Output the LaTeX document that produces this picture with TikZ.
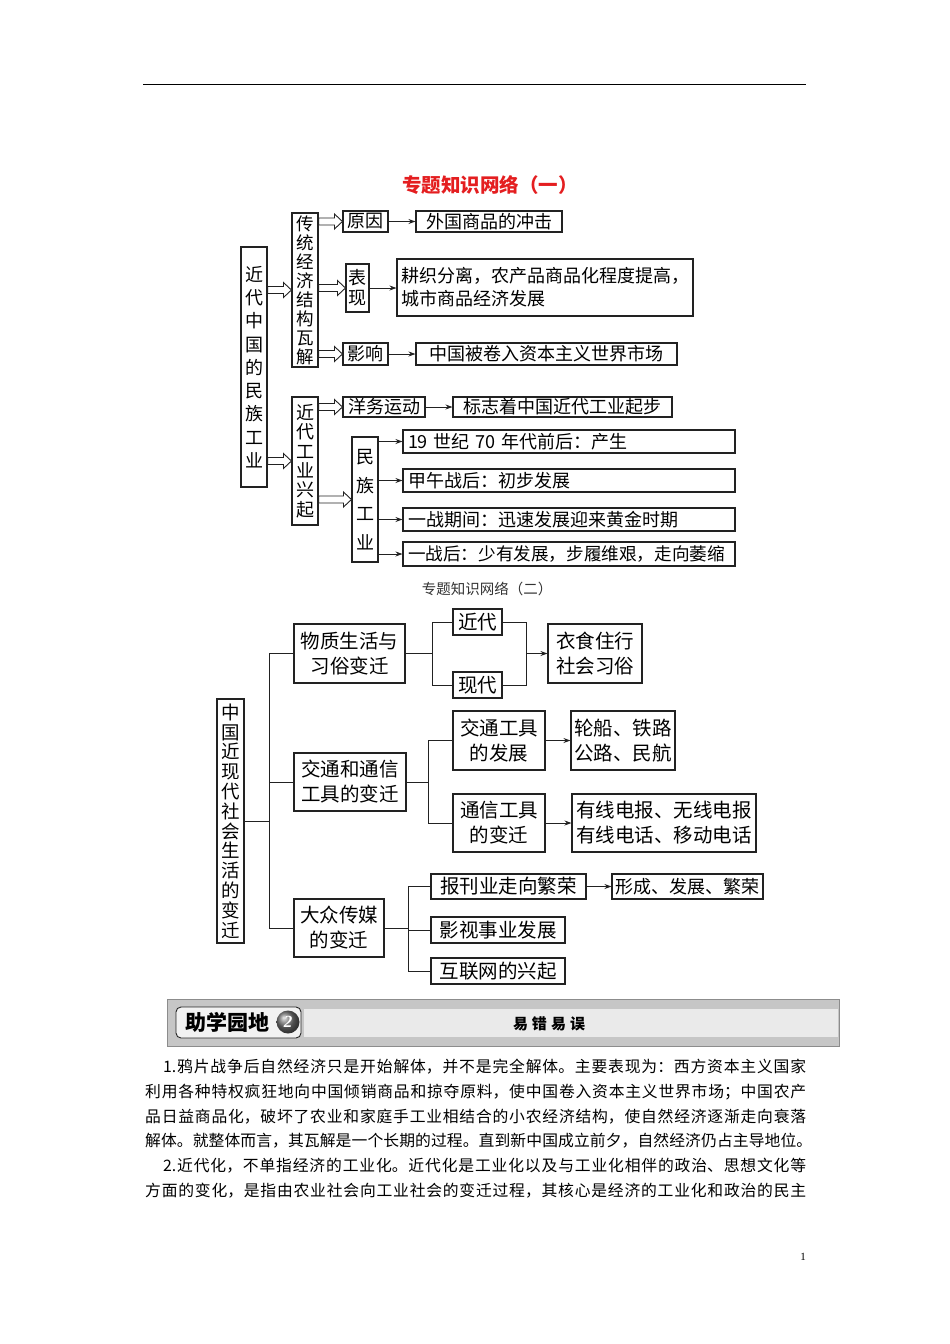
\documentclass[tikz,border=0pt]{standalone}
\usepackage{fontspec}
\setmainfont{Noto Sans CJK SC}
\newfontfamily\latinfont{Liberation Serif}
\usetikzlibrary{arrows.meta,calc}
\XeTeXlinebreaklocale "zh"
\XeTeXlinebreakskip=0pt plus 3pt
\definecolor{ttlred}{HTML}{E41E20}
\definecolor{bord}{HTML}{222222}
\definecolor{bandgray}{HTML}{C6C6C6}
\definecolor{striplight}{HTML}{EAEAEA}
\tikzset{
  bx/.style={draw=bord, line width=1.1pt, inner sep=0pt, align=center},
  lbx/.style={bx, align=left, inner xsep=5pt, text width=322pt, minimum height=23pt},
  ln/.style={draw=bord, line width=0.9pt},
  arr/.style={ln, -{Stealth[length=7pt,width=5pt]}},
  harr/.style={draw=bord, line width=0.9pt, fill=white, line join=miter},
  fone/.style={font=\fontsize{18}{22}\selectfont},
  ftwo/.style={font=\fontsize{19.5}{25}\selectfont},
  para/.style={anchor=west, inner sep=0pt, font=\fontsize{15.8}{20}\selectfont}
}
\newcommand\hollowarr[2]{%
  \draw[harr] let \p1=(#1), \p2=(#2) in
   (\x1,\y1+3.5pt) -- (\x2-8pt,\y1+3.5pt) -- (\x2-8pt,\y1+7.5pt) -- (\x2,\y1)
   -- (\x2-8pt,\y1-7.5pt) -- (\x2-8pt,\y1-3.5pt) -- (\x1,\y1-3.5pt) -- cycle;}
\newcommand\jline[2]{\parbox{#1}{\rightskip=0pt\parfillskip=0pt\relax #2}}
\begin{document}
\begin{tikzpicture}[x=1pt,y=-1pt]
\useasboundingbox[fill=white] (0,0) rectangle (950,1344);
% top rule
\draw[line width=0.8pt] (143,84) -- (806,84);
% ---------- diagram 1 ----------
\node[font=\fontsize{19.5}{22}\bfseries, text=ttlred] (t1) at (490,185) {专题知识网络（一）};
\node[bx, minimum width=26pt, minimum height=240pt, font=\fontsize{18}{23.25}\selectfont] (A) at (254,367) {近\\代\\中\\国\\的\\民\\族\\工\\业};
\node[bx, minimum width=26pt, minimum height=154pt, font=\fontsize{17.5}{19}\selectfont] (B) at (305,290) {传\\统\\经\\济\\结\\构\\瓦\\解};
\node[bx, minimum width=26pt, minimum height=128pt, font=\fontsize{18}{19.4}\selectfont] (C) at (305,461) {近\\代\\工\\业\\兴\\起};
\node[bx, fone, minimum width=45pt, minimum height=21pt] (D) at (365.5,221.5) {原因};
\node[bx, fone, minimum width=146pt, minimum height=21pt] (E) at (489,221.5) {外国商品的冲击};
\node[bx, minimum width=23pt, minimum height=48pt, font=\fontsize{18}{20}\selectfont] (F) at (357.5,288) {表\\现};
\node[bx, align=left, minimum width=296pt, minimum height=57pt, font=\fontsize{18}{23}\selectfont] (G) at (545,287.5) {耕织分离，农产品商品化程度提高，\\城市商品经济发展};
\node[bx, fone, minimum width=45pt, minimum height=22pt] (H) at (365.5,354) {影响};
\node[bx, fone, minimum width=261pt, minimum height=22pt] (I) at (546.5,354) {中国被卷入资本主义世界市场};
\node[bx, fone, minimum width=82pt, minimum height=20pt] (J) at (384,407) {洋务运动};
\node[bx, fone, minimum width=219pt, minimum height=20pt] (K) at (562.5,407) {标志着中国近代工业起步};
\node[bx, minimum width=26pt, minimum height=125pt, font=\fontsize{18}{28.5}\selectfont] (L) at (365,499.5) {民\\族\\工\\业};
\node[lbx, fone] (M1) at (569,441.5) {19 世纪 70 年代前后：产生};
\node[lbx, fone] (M2) at (569,480.5) {甲午战后：初步发展};
\node[lbx, fone] (M3) at (569,519.5) {一战期间：迅速发展迎来黄金时期};
\node[lbx, font=\fontsize{17.6}{22}\selectfont, minimum height=24pt] (M4) at (569,554) {一战后：少有发展，步履维艰，走向萎缩};
% hollow arrows
\hollowarr{A.east |- B.west}{B.west}
\hollowarr{A.east |- C.west}{C.west}
\hollowarr{B.east |- D.west}{D.west}
\hollowarr{B.east |- F.west}{F.west}
\hollowarr{B.east |- H.west}{H.west}
\hollowarr{C.east |- J.west}{J.west}
\hollowarr{C.east |- L.west}{L.west}
% plain arrows
\draw[arr] (D.east) -- (E.west);
\draw[arr] (F.east) -- (F.east -| G.west);
\draw[arr] (H.east) -- (I.west);
\draw[arr] (J.east) -- (K.west);
\draw[arr] (L.east |- M1.west) -- (M1.west);
\draw[arr] (L.east |- M2.west) -- (M2.west);
\draw[arr] (L.east |- M3.west) -- (M3.west);
\draw[arr] (L.east |- M4.west) -- (M4.west);
% ---------- diagram 2 ----------
\node[font=\fontsize{14.5}{16}\selectfont, text=black!80] (t2) at (487,589) {专题知识网络（二）};
\node[bx, minimum width=27pt, minimum height=244pt, font=\fontsize{18.5}{19.8}\selectfont] (P) at (230.5,821) {中\\国\\近\\现\\代\\社\\会\\生\\活\\的\\变\\迁};
\node[bx, ftwo, minimum width=111pt, minimum height=59pt] (Q) at (349.5,653.5) {物质生活与\\习俗变迁};
\node[bx, ftwo, minimum width=49pt, minimum height=26pt] (R) at (477.5,622) {近代};
\node[bx, ftwo, minimum width=49pt, minimum height=26pt] (S) at (477.5,685) {现代};
\node[bx, ftwo, minimum width=94pt, minimum height=59pt] (T) at (595,653.5) {衣食住行\\社会习俗};
\node[bx, ftwo, minimum width=112pt, minimum height=58pt] (U) at (350,782) {交通和通信\\工具的变迁};
\node[bx, ftwo, minimum width=92pt, minimum height=59pt] (V) at (499,740.5) {交通工具\\的发展};
\node[bx, ftwo, minimum width=104pt, minimum height=59pt] (W) at (623,740.5) {轮船、铁路\\公路、民航};
\node[bx, ftwo, minimum width=92pt, minimum height=58pt] (X) at (499,823) {通信工具\\的变迁};
\node[bx, ftwo, minimum width=184pt, minimum height=58pt] (Y) at (664,823) {有线电报、无线电报\\有线电话、移动电话};
\node[bx, ftwo, minimum width=90pt, minimum height=58pt] (Z) at (339,928) {大众传媒\\的变迁};
\node[bx, ftwo, minimum width=155pt, minimum height=25pt] (Z1) at (508.5,886.5) {报刊业走向繁荣};
\node[bx, font=\fontsize{18}{22}\selectfont, minimum width=151pt, minimum height=25pt] (Z2) at (687.5,886.5) {形成、发展、繁荣};
\node[bx, ftwo, minimum width=134pt, minimum height=26pt] (Z3) at (498,930) {影视事业发展};
\node[bx, ftwo, minimum width=134pt, minimum height=26pt] (Z4) at (498,971) {互联网的兴起};
\coordinate (trk) at (269,0);
\coordinate (qs) at (432,0);
\coordinate (mg) at (526,0);
\coordinate (us) at (428,0);
\coordinate (zs) at (408,0);
\draw[ln] (P.east) -- (P.east -| trk);
\draw[ln] (Q.west) -- (Q.west -| trk) -- (Z.west -| trk) -- (Z.west);
\draw[ln] (U.west) -- (U.west -| trk);
\draw[ln] (Q.east) -- (Q.east -| qs);
\draw[ln] (R.west) -- (R.west -| qs) -- (S.west -| qs) -- (S.west);
\draw[ln] (R.east) -- (R.east -| mg) -- (S.east -| mg) -- (S.east);
\draw[arr] (T.west -| mg) -- (T.west);
\draw[ln] (U.east) -- (U.east -| us);
\draw[ln] (V.west) -- (V.west -| us) -- (X.west -| us) -- (X.west);
\draw[arr] (V.east) -- (W.west);
\draw[arr] (X.east) -- (Y.west);
\draw[ln] (Z.east) -- (Z.east -| zs);
\draw[ln] (Z1.west) -- (Z1.west -| zs) -- (Z4.west -| zs) -- (Z4.west);
\draw[ln] (Z3.west) -- (Z3.west -| zs);
\draw[arr] (Z1.east) -- (Z2.west);
% ---------- banner ----------
\filldraw[fill=bandgray, draw=black!45, line width=0.6pt] (167,999) rectangle (839,1046);
\fill[striplight] (304,1009) rectangle (838,1037);
\node[draw=black!85, line width=0.9pt, rounded corners=5pt, fill=black!5, minimum width=125pt, minimum height=31pt, inner sep=0pt] (lab) at (238.5,1022.5) {};
\node[font=\fontsize{21}{22}\bfseries, inner sep=0pt] (labtxt) at (227,1022.5) {助学园地};
\shade[ball color=black!55] (288,1022) circle (11.5pt);
\node[font=\latinfont\fontsize{17}{17}\bfseries\itshape, text=white, inner sep=0pt] (two) at (288,1022) {2};
\node[font=\fontsize{15}{16}\bfseries, inner sep=0pt] (yc) at (549,1024) {易\hspace{4pt}错\hspace{4pt}易\hspace{4pt}误};
% ---------- paragraph ----------
\node[para] (p1) at (163,1067) {\jline{643pt}{1.鸦片战争后自然经济只是开始解体，并不是完全解体。主要表现为：西方资本主义国家}};
\node[para] (p2) at (145,1092) {\jline{661pt}{利用各种特权疯狂地向中国倾销商品和掠夺原料，使中国卷入资本主义世界市场；中国农产}};
\node[para] (p3) at (145,1117) {\jline{661pt}{品日益商品化，破坏了农业和家庭手工业相结合的小农经济结构，使自然经济逐渐走向衰落}};
\node[para] (p4) at (145,1141) {\jline{667pt}{解体。就整体而言，其瓦解是一个长期的过程。直到新中国成立前夕，自然经济仍占主导地位。}};
\node[para] (p5) at (163,1166) {\jline{643pt}{2.近代化，不单指经济的工业化。近代化是工业化以及与工业化相伴的政治、思想文化等}};
\node[para] (p6) at (145,1191) {\jline{661pt}{方面的变化，是指由农业社会向工业社会的变迁过程，其核心是经济的工业化和政治的民主}};
\node[font=\latinfont\fontsize{11}{11}\selectfont] (pg) at (803,1257) {1};
\end{tikzpicture}
\end{document}
